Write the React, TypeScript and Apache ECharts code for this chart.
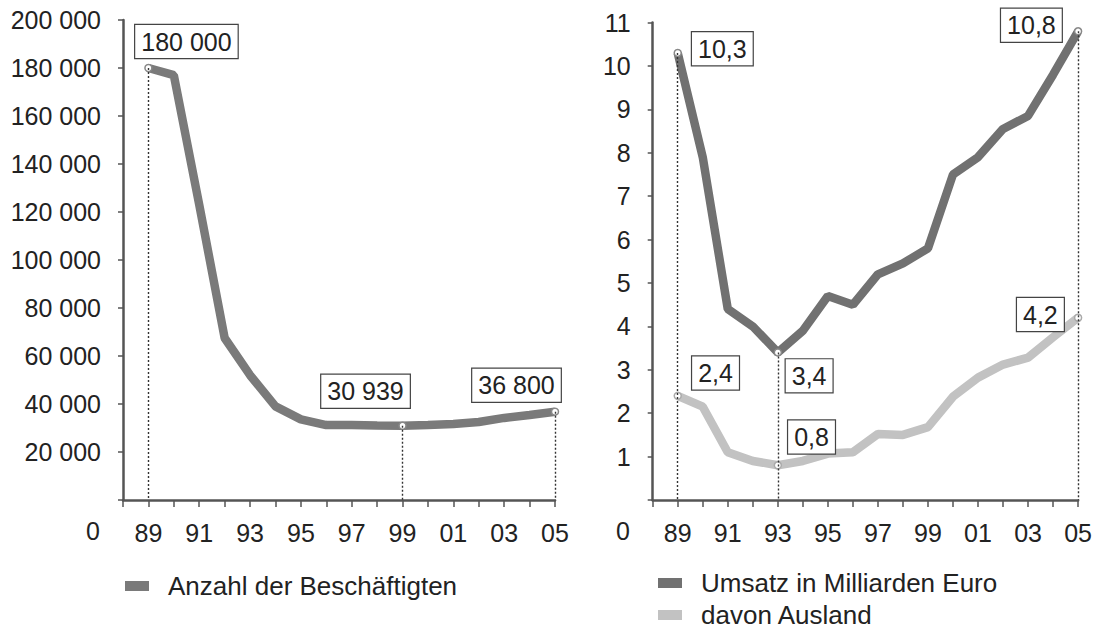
import React, { useEffect, useRef } from "react";
import * as echarts from "echarts";

const years = [1989, 1990, 1991, 1992, 1993, 1994, 1995, 1996, 1997, 1998, 1999, 2000, 2001, 2002, 2003, 2004, 2005];
const employees = [180000, 177000, 123000, 67500, 52000, 39000, 33600, 31200, 31300, 31000, 30939, 31300, 31700, 32500, 34200, 35400, 36800];
const revenue = [10.3, 7.9, 4.4, 4.0, 3.4, 3.9, 4.7, 4.5, 5.2, 5.45, 5.8, 7.5, 7.9, 8.55, 8.85, 9.8, 10.8];
const foreign = [2.4, 2.15, 1.1, 0.9, 0.8, 0.9, 1.07, 1.1, 1.52, 1.5, 1.68, 2.38, 2.82, 3.12, 3.28, 3.75, 4.2];

const seriesNames = ["Anzahl der Beschäftigten", "Umsatz in Milliarden Euro", "davon Ausland"];
const seriesColors = ["#7a7a7a", "#717171", "#c2c2c2"];

// annotation styling: index of labelled point -> label offset (px)
const empMarks: Record<number, [number, number]> = { 0: [38, -26.5], 10: [-37, -34.5], 16: [-38.5, -26.5] };
const revMarks: Record<number, [number, number]> = { 0: [44.6, -4.2], 4: [31.3, 23.4], 16: [-46.7, -6] };
const forMarks: Record<number, [number, number]> = { 0: [37.8, -22.8], 4: [33.7, -28.3], 16: [-37.7, -3.2] };

const FONT = '"Liberation Sans", Arial, sans-serif';
const TEXT = "#222";
const AXIS = "#555";

const fmtThousands = (v: number) => Math.round(v).toString().replace(/\B(?=(\d{3})+(?!\d))/g, " ");
const fmtDecimal = (v: number) => v.toFixed(1).replace(".", ",");
const fmtYear = (v: number) => (v % 2 === 1 ? String(v % 100).padStart(2, "0") : "");

const labelBox = {
  show: true,
  position: "inside",
  fontFamily: FONT,
  fontSize: 25,
  lineHeight: 26,
  color: TEXT,
  backgroundColor: "#fff",
  borderColor: "#444",
  borderWidth: 1.2,
  padding: [4, 6, 3, 6],
};

function mkData(vals: number[], marks: Record<number, [number, number]>, fmt: (v: number) => string) {
  return years.map((y, i) => {
    const m = marks[i];
    if (!m) return [y, vals[i]];
    return {
      value: [y, vals[i]],
      symbolSize: 7,
      label: { ...labelBox, offset: m, formatter: () => fmt(vals[i]) },
    };
  });
}

function dropLines(vals: number[], marks: Record<number, [number, number]>) {
  return Object.keys(marks).map((k) => {
    const i = Number(k);
    return [{ coord: [years[i], vals[i]] }, { coord: [years[i], 0] }];
  });
}

const xAxisBase = {
  type: "value",
  min: 1988,
  max: 2005,
  interval: 1,
  axisLine: { lineStyle: { color: AXIS, width: 2.5 } },
  axisTick: { show: true, length: 7, lineStyle: { color: AXIS, width: 1.5 } },
  axisLabel: { formatter: fmtYear, fontFamily: FONT, fontSize: 25, color: TEXT, margin: 20 },
  splitLine: { show: false },
};

const legendItem = (i: number) => ({
  name: seriesNames[i],
  itemStyle: { color: seriesColors[i], borderWidth: 0 },
});

export default function App() {
  const ref = useRef<HTMLDivElement>(null);
  useEffect(() => {
    if (!ref.current) return;
    const chart = echarts.init(ref.current, undefined, { renderer: "svg" });
    const markLineStyle = {
      symbol: "none",
      silent: true,
      label: { show: false },
      lineStyle: { type: [2, 2], color: "#333", width: 1.4 },
    };
    const legendBase = {
      padding: 0,
      icon: "rect",
      itemWidth: 24,
      itemHeight: 10,
      textStyle: { fontFamily: FONT, fontSize: 26, color: TEXT, padding: [0, 0, 0, 14] },
    };
    chart.setOption({
      animation: false,
      backgroundColor: "#fff",
      textStyle: { fontFamily: FONT },
      grid: [
        { left: 123, top: 20, width: 432, height: 480 },
        { left: 652.7, top: 22.6, width: 426.3, height: 477.4 },
      ],
      xAxis: [
        { ...xAxisBase, gridIndex: 0 },
        { ...xAxisBase, gridIndex: 1 },
      ],
      yAxis: [
        {
          type: "value",
          gridIndex: 0,
          min: 0,
          max: 200000,
          interval: 20000,
          axisLine: { show: true, lineStyle: { color: AXIS, width: 2.5 } },
          axisTick: { show: true, length: 5, lineStyle: { color: AXIS, width: 1.5 } },
          axisLabel: {
            formatter: (v: number) => (v === 0 ? "" : fmtThousands(v)),
            fontFamily: FONT,
            fontSize: 25,
            color: TEXT,
            margin: 22,
          },
          splitLine: { show: false },
        },
        {
          type: "value",
          gridIndex: 1,
          min: 0,
          max: 11,
          interval: 1,
          axisLine: { show: true, lineStyle: { color: AXIS, width: 2.5 } },
          axisTick: { show: true, length: 5, lineStyle: { color: AXIS, width: 1.5 } },
          axisLabel: {
            formatter: (v: number) => (v === 0 ? "" : String(v)),
            fontFamily: FONT,
            fontSize: 25,
            color: TEXT,
            margin: 22,
          },
          splitLine: { show: false },
        },
      ],
      legend: [
        { ...legendBase, data: [legendItem(0)], left: 125, top: 573 },
        { ...legendBase, data: [legendItem(1), legendItem(2)], left: 658, top: 570, orient: "vertical", itemGap: 6 },
      ],
      graphic: [
        { type: "text", left: 86, top: 518, style: { text: "0", font: `25px ${FONT}`, fill: TEXT } },
        { type: "text", left: 616, top: 518, style: { text: "0", font: `25px ${FONT}`, fill: TEXT } },
      ],
      series: [
        {
          name: seriesNames[0],
          type: "line",
          xAxisIndex: 0,
          yAxisIndex: 0,
          data: mkData(employees, empMarks, fmtThousands),
          symbol: "circle",
          symbolSize: 0,
          showSymbol: true,
          lineStyle: { width: 8.5, color: seriesColors[0] },
          itemStyle: { color: "#fff", borderColor: "#888", borderWidth: 1.5 },
          markLine: { ...markLineStyle, data: dropLines(employees, empMarks) },
          z: 3,
        },
        {
          name: seriesNames[1],
          type: "line",
          xAxisIndex: 1,
          yAxisIndex: 1,
          data: mkData(revenue, revMarks, fmtDecimal),
          symbol: "circle",
          symbolSize: 0,
          showSymbol: true,
          lineStyle: { width: 8.5, color: seriesColors[1] },
          itemStyle: { color: "#fff", borderColor: "#888", borderWidth: 1.5 },
          markLine: { ...markLineStyle, data: dropLines(revenue, revMarks) },
          z: 3,
        },
        {
          name: seriesNames[2],
          type: "line",
          xAxisIndex: 1,
          yAxisIndex: 1,
          data: mkData(foreign, forMarks, fmtDecimal),
          symbol: "circle",
          symbolSize: 0,
          showSymbol: true,
          lineStyle: { width: 8.5, color: seriesColors[2] },
          itemStyle: { color: "#fff", borderColor: "#aaa", borderWidth: 1.5 },
          z: 3,
        },
      ],
    });
    return () => chart.dispose();
  }, []);
  return <div ref={ref} style={{ position: "fixed", left: 0, top: 0, width: 1095, height: 632 }} />;
}
